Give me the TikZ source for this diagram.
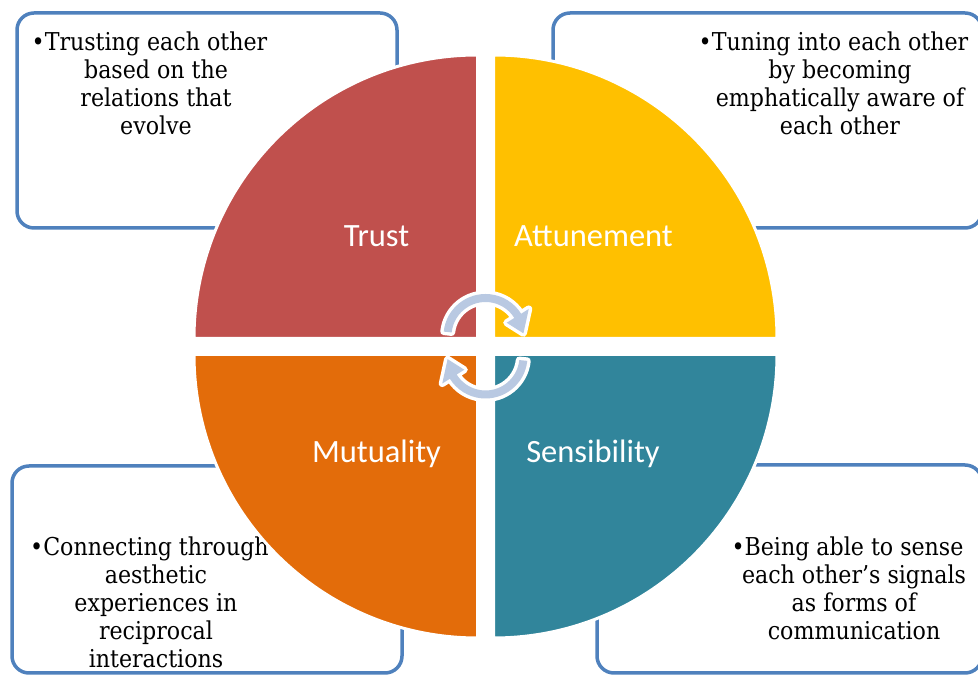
\documentclass[tikz,border=0pt]{standalone}
\usepackage{fontspec}
\newfontfamily\labelfont{Carlito}
\newfontfamily\notefont{DejaVu Serif Condensed}
\definecolor{trustred}{RGB}{192,80,77}
\definecolor{attyellow}{RGB}{255,192,0}
\definecolor{mutorange}{RGB}{227,108,10}
\definecolor{sensteal}{RGB}{49,133,155}
\definecolor{boxblue}{RGB}{79,129,189}
\definecolor{arrowblue}{RGB}{185,201,226}

\begin{document}
\begin{tikzpicture}[x=1pt,y=1pt,
  notebox/.style={draw=boxblue, line width=3.5pt, rounded corners=17pt, inner sep=0pt},
  notetext/.style={inner sep=0pt, align=center, anchor=north, font=\notefont\fontsize{24.6}{28}\selectfont},
  quad/.style={draw=white, line width=3pt},
  quadlabel/.style={text=white, anchor=base, inner sep=0pt, font=\labelfont\fontsize{32.5}{38}\selectfont},
  cyclearrow/.style={fill=arrowblue, preaction={draw=white, line width=7pt, line join=round}}]
\useasboundingbox (0,0) rectangle (978,677);
\begin{scope}
\clip (0,0) rectangle (978,677);

% description boxes
\node[notebox, minimum width=380, minimum height=215] (trustbox) at (207,556.5) {};
\node[notebox, minimum width=429, minimum height=215] (attbox) at (767.5,556.5) {};
\node[notebox, minimum width=390, minimum height=207] (mutbox) at (207,107.5) {};
\node[notebox, minimum width=385, minimum height=208] (sensbox) at (789.5,108) {};

\node[notetext] (trusttext) at (156,645.5)
  {\llap{•}Trusting each other\\based on the\\relations that\\evolve};
\node[notetext] (atttext) at (840,645.5)
  {\llap{•}Tuning into each other\\by becoming\\emphatically aware of\\each other};
\node[notetext] (muttext) at (156,140.5)
  {\llap{•}Connecting through\\aesthetic\\experiences in\\reciprocal\\interactions};
\node[notetext] (senstext) at (854,140.5)
  {\llap{•}Being able to sense\\each other’s signals\\as forms of\\communication};

% the four quadrants of the circle
\draw[quad, fill=trustred] (477.5,338.5) -- ++(-283.5,0)
  arc[start angle=180, end angle=90, radius=283.5] -- cycle;
\draw[quad, fill=attyellow] (493.5,338.5) -- ++(0,283.5)
  arc[start angle=90, end angle=0, radius=283.5] -- cycle;
\draw[quad, fill=mutorange] (477.5,322.5) -- ++(-283.5,0)
  arc[start angle=180, end angle=270, radius=283.5] -- cycle;
\draw[quad, fill=sensteal] (493.5,322.5) -- ++(283.5,0)
  arc[start angle=0, end angle=-90, radius=283.5] -- cycle;

\node[quadlabel] (trust) at (376.5,430) {Trust};
\node[quadlabel] (attunement) at (593.5,430) {Attunement};
\node[quadlabel] (mutuality) at (376.5,214) {Mutuality};
\node[quadlabel] (sensibility) at (593,214) {Sensibility};

% circular arrows in the middle
\coordinate (topc) at (485.5,341);
\coordinate (botc) at (485.5,320.5);
\begin{scope}[shift={(topc)}]
  \path[cyclearrow] (174:42) arc[start angle=174, end angle=32, radius=42]
    -- (32:51) -- (4:38) -- (32:25) -- (32:34)
    arc[start angle=32, end angle=174, radius=34] -- cycle;
\end{scope}
\begin{scope}[shift={(botc)}, rotate=180]
  \path[cyclearrow] (174:42) arc[start angle=174, end angle=32, radius=42]
    -- (32:51) -- (4:38) -- (32:25) -- (32:34)
    arc[start angle=32, end angle=174, radius=34] -- cycle;
\end{scope}
\end{scope}
\end{tikzpicture}
\end{document}
